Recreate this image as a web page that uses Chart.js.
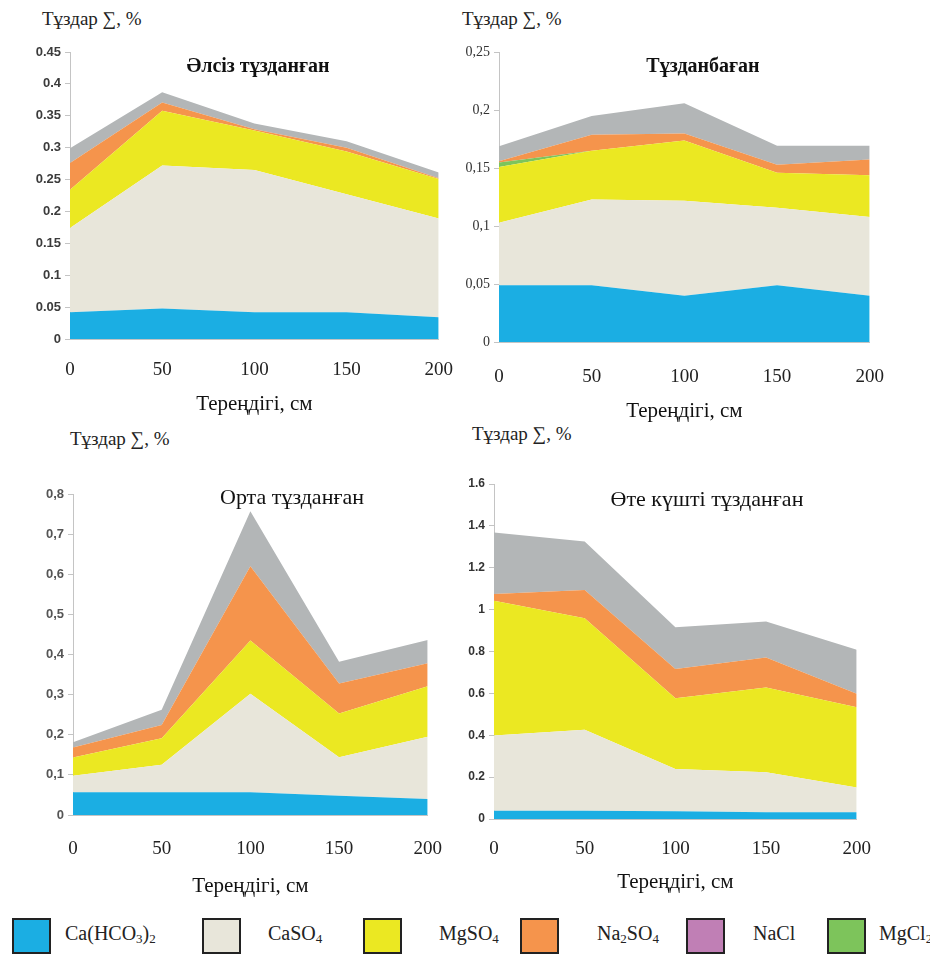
<!DOCTYPE html>
<html>
<head>
<meta charset="utf-8">
<script src="https://cdn.jsdelivr.net/npm/chart.js@4.4.0/dist/chart.umd.min.js"></script>
<style>
  body { margin: 0; width: 930px; height: 955px; background: #fff; position: relative; overflow: hidden; font-family: "Liberation Serif", "Times New Roman", serif; }
  .box { position: absolute; }
  .ylab { position: absolute; font-size: 19px; color: #222; white-space: nowrap; }
  .ttl { position: absolute; font-size: 20px; color: #111; white-space: nowrap; transform: translate(-50%, -50%); }
  .leg-box { position: absolute; top: 918px; width: 35px; height: 32px; border: 2px solid #222; }
  .leg-txt { position: absolute; top: 922px; font-size: 20px; color: #222; white-space: nowrap; }
  .leg-txt sub { font-size: 13px; vertical-align: -3px; }
</style>
</head>
<body>

<div class="ylab" style="left:42px; top:8px;">Тұздар ∑, %</div>
<div class="ylab" style="left:462px; top:8px;">Тұздар ∑, %</div>
<div class="ylab" style="left:70px; top:428px;">Тұздар ∑, %</div>
<div class="ylab" style="left:472px; top:423px;">Тұздар ∑, %</div>

<div class="box" id="w1"><canvas id="c1"></canvas></div>
<div class="box" id="w2"><canvas id="c2"></canvas></div>
<div class="box" id="w3"><canvas id="c3"></canvas></div>
<div class="box" id="w4"><canvas id="c4"></canvas></div>

<div class="ttl" style="left:258px; top:65px; font-weight:bold;">Әлсіз тұзданған</div>
<div class="ttl" style="left:703px; top:65px; font-weight:bold;">Тұзданбаған</div>
<div class="ttl" style="left:292px; top:497px; font-size:22px;">Орта тұзданған</div>
<div class="ttl" style="left:707px; top:499px; font-size:22px;">Өте күшті тұзданған</div>

<div class="leg-box" style="left:12px; background:#1baee3;"></div>
<div class="leg-txt" style="left:65px;">Ca(HCO<sub>3</sub>)<sub>2</sub></div>
<div class="leg-box" style="left:202px; background:#e8e6da;"></div>
<div class="leg-txt" style="left:268px;">CaSO<sub>4</sub></div>
<div class="leg-box" style="left:363px; background:#ebe822;"></div>
<div class="leg-txt" style="left:439px;">MgSO<sub>4</sub></div>
<div class="leg-box" style="left:520px; background:#f5944c;"></div>
<div class="leg-txt" style="left:597px;">Na<sub>2</sub>SO<sub>4</sub></div>
<div class="leg-box" style="left:686px; background:#c07fb5;"></div>
<div class="leg-txt" style="left:753px;">NaCl</div>
<div class="leg-box" style="left:827px; background:#7dc45b;"></div>
<div class="leg-txt" style="left:879px;">MgCl<sub>2</sub></div>

<script>
// depth, cm
const depths = [0, 50, 100, 150, 200];

// Әлсіз тұзданған
const weakCaHCO3 = [0.042, 0.048, 0.042, 0.042, 0.034];
const weakCaSO4  = [0.132, 0.224, 0.223, 0.185, 0.155];
const weakMgSO4  = [0.060, 0.086, 0.062, 0.067, 0.062];
const weakMgCl2  = [0, 0, 0, 0, 0];
const weakNa2SO4 = [0.042, 0.013, 0.002, 0.006, 0.001];
const weakOther  = [0.023, 0.016, 0.009, 0.010, 0.009];

// Тұзданбаған
const noneCaHCO3 = [0.049, 0.049, 0.040, 0.049, 0.040];
const noneCaSO4  = [0.054, 0.074, 0.082, 0.067, 0.068];
const noneMgSO4  = [0.048, 0.042, 0.052, 0.030, 0.036];
const noneMgCl2  = [0.004, 0, 0, 0, 0];
const noneNa2SO4 = [0.001, 0.014, 0.006, 0.007, 0.0135];
const noneOther  = [0.013, 0.016, 0.026, 0.0165, 0.012];

// Орта тұзданған
const midCaHCO3 = [0.057, 0.057, 0.057, 0.048, 0.040];
const midCaSO4  = [0.041, 0.068, 0.245, 0.096, 0.155];
const midMgSO4  = [0.045, 0.066, 0.133, 0.109, 0.126];
const midMgCl2  = [0, 0, 0, 0, 0];
const midNa2SO4 = [0.025, 0.033, 0.185, 0.075, 0.057];
const midOther  = [0.013, 0.038, 0.137, 0.054, 0.058];

// Өте күшті тұзданған
const strongCaHCO3 = [0.040, 0.040, 0.037, 0.032, 0.032];
const strongCaSO4  = [0.359, 0.386, 0.202, 0.191, 0.119];
const strongMgSO4  = [0.643, 0.533, 0.338, 0.405, 0.383];
const strongMgCl2  = [0, 0, 0, 0, 0];
const strongNa2SO4 = [0.033, 0.135, 0.139, 0.143, 0.064];
const strongOther  = [0.293, 0.231, 0.200, 0.172, 0.210];

const saltNames = ['Ca(HCO3)2', 'CaSO4', 'MgSO4', 'MgCl2', 'Na2SO4', 'басқа'];
const saltColors = ['#1baee3', '#e8e6da', '#ebe822', '#7dc45b', '#f5944c', '#b3b6b7'];

const axisGray = '#c4c4c4';

function makeChart(canvasId, wrapId, box, series, yOpt) {
  const wrap = document.getElementById(wrapId);
  wrap.style.left = box.left + 'px';
  wrap.style.top = box.top + 'px';
  wrap.style.width = box.width + 'px';
  wrap.style.height = box.height + 'px';

  const datasets = series.map((arr, i) => ({
    label: saltNames[i],
    data: arr,
    backgroundColor: saltColors[i],
    borderWidth: 0,
    pointRadius: 0,
    tension: 0,
    fill: i === 0 ? 'origin' : '-1'
  }));

  return new Chart(document.getElementById(canvasId), {
    type: 'line',
    data: { labels: depths, datasets: datasets },
    options: {
      responsive: true,
      maintainAspectRatio: false,
      animation: false,
      layout: { padding: { top: box.padTop, right: box.padRight, left: 0, bottom: 0 } },
      plugins: { legend: { display: false }, tooltip: { enabled: false } },
      scales: {
        x: {
          grid: { display: false, drawTicks: false },
          border: { color: axisGray },
          ticks: { padding: box.xTickPad, color: '#222', font: { family: 'Liberation Serif', size: 19 } },
          title: { display: true, text: 'Тереңдігі, см', color: '#111', padding: 0,
                   font: { family: 'Liberation Serif', size: 21 } },
          afterFit: s => { s.height = box.xH; }
        },
        y: {
          stacked: true,
          min: 0,
          max: yOpt.max,
          grid: { drawOnChartArea: false, drawTicks: true, tickLength: 5, color: axisGray },
          border: { color: axisGray },
          ticks: {
            stepSize: yOpt.step,
            padding: 4,
            color: yOpt.color,
            font: yOpt.font,
            callback: v => {
              const t = String(Number(v.toFixed(2)));
              return yOpt.comma ? t.replace('.', ',') : t;
            }
          },
          afterFit: s => { s.width = box.yW; }
        }
      }
    }
  });
}

makeChart('c1', 'w1',
  { left: 0, top: 40, width: 473, height: 377, yW: 70, padTop: 12, padRight: 9, xH: 78, xTickPad: 20 },
  [weakCaHCO3, weakCaSO4, weakMgSO4, weakMgCl2, weakNa2SO4, weakOther],
  { max: 0.45, step: 0.05, comma: false, color: '#3b3b3b',
    font: { family: 'Liberation Sans', size: 13, weight: 'bold' } });

makeChart('c2', 'w2',
  { left: 455, top: 40, width: 453, height: 384, yW: 44, padTop: 11, padRight: 5, xH: 82, xTickPad: 24 },
  [noneCaHCO3, noneCaSO4, noneMgSO4, noneMgCl2, noneNa2SO4, noneOther],
  { max: 0.25, step: 0.05, comma: true, color: '#333',
    font: { family: 'Liberation Sans Narrow', size: 14 } });

makeChart('c3', 'w3',
  { left: 10, top: 482, width: 455, height: 417, yW: 63, padTop: 12, padRight: 8, xH: 84, xTickPad: 23 },
  [midCaHCO3, midCaSO4, midMgSO4, midMgCl2, midNa2SO4, midOther],
  { max: 0.8, step: 0.1, comma: true, color: '#555',
    font: { family: 'Liberation Sans', size: 13, weight: 'bold' } });

makeChart('c4', 'w4',
  { left: 455, top: 472, width: 435, height: 423, yW: 39, padTop: 12, padRight: 14, xH: 76, xTickPad: 19 },
  [strongCaHCO3, strongCaSO4, strongMgSO4, strongMgCl2, strongNa2SO4, strongOther],
  { max: 1.6, step: 0.2, comma: false, color: '#333',
    font: { family: 'Liberation Sans', size: 12, weight: 'bold' } });
</script>
</body>
</html>
